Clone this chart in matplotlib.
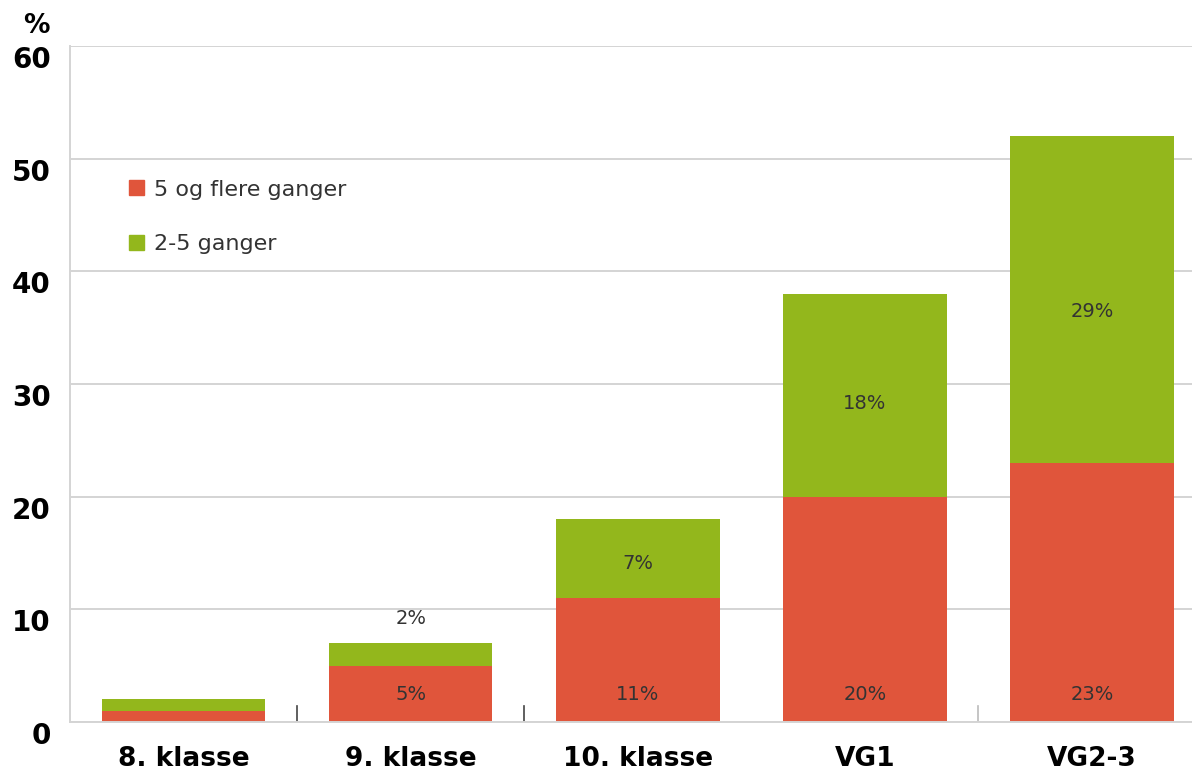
import matplotlib

matplotlib.use("Agg")
import matplotlib.pyplot as plt
from matplotlib.patches import Patch

# --------------------------------------------------------------------------- #
#  Data
# --------------------------------------------------------------------------- #
categories = ["8. klasse", "9. klasse", "10. klasse", "VG1", "VG2-3"]
five_plus = [1, 5, 11, 20, 23]        # 5 og flere ganger
two_five = [1, 2, 7, 18, 29]          # 2-5 ganger
five_plus_labels = ["", "5%", "11%", "20%", "23%"]
two_five_labels = ["", "2%", "7%", "18%", "29%"]
y_ticks = [0, 10, 20, 30, 40, 50, 60]

RED = "#E0553B"
GREEN = "#93B71C"
GRID = "#d4d4d4"

fig = plt.figure(figsize=(11.92, 7.72), dpi=100)
ax = fig.add_axes([0.0587, 0.0648, 0.9413, 0.8756])

x = list(range(len(categories)))
w = 0.72
ax.bar(x, five_plus, width=w, color=RED, zorder=2)
ax.bar(x, two_five, width=w, bottom=five_plus, color=GREEN, zorder=2)

# value labels
for i in x:
    if five_plus_labels[i]:
        ax.text(i, 2.4, five_plus_labels[i], ha="center", va="center",
                fontsize=14, color="#333333", zorder=3)
    if two_five_labels[i]:
        top = five_plus[i] + two_five[i]
        if two_five[i] < 4:
            ypos = top + 2.2
        else:
            ypos = five_plus[i] + two_five[i] / 2 - 0.03 * two_five[i] - 0.2
        ax.text(i, ypos, two_five_labels[i], ha="center", va="center",
                fontsize=14, color="#333333", zorder=3)

ax.set_xlim(-0.5, 4.44)
ax.set_ylim(0, 60)
ax.set_yticks(y_ticks)
ax.set_yticklabels([str(v) for v in y_ticks], fontsize=20, weight="bold",
                   va="top")
ax.set_xticks(x)
ax.set_xticklabels(categories, fontsize=19, weight="bold")
ax.tick_params(axis="x", length=0, pad=17)
ax.tick_params(axis="y", length=0, pad=14)
ax.yaxis.grid(True, color=GRID, linewidth=1.4, zorder=0)
ax.set_axisbelow(True)

for side in ["top", "right"]:
    ax.spines[side].set_visible(False)
ax.spines["left"].set_color(GRID)
ax.spines["left"].set_linewidth(1.4)
ax.spines["bottom"].set_color(GRID)
ax.spines["bottom"].set_linewidth(1.4)

# small separators between categories
for xs, col in [(0.5, "#444444"), (1.5, "#444444"), (3.5, "#bbbbbb")]:
    ax.plot([xs, xs], [0, 1.4], color=col, linewidth=1.2, zorder=1)

ax.text(-0.588, 60.6, "%", ha="right", va="bottom", fontsize=19,
        weight="bold", clip_on=False)

handles = [Patch(color=RED, label="5 og flere ganger"),
           Patch(color=GREEN, label="2-5 ganger")]
ax.legend(handles=handles, loc="upper left", bbox_to_anchor=(0.035, 0.832),
          frameon=False, fontsize=16, handlelength=0.65, handleheight=0.65,
          handletextpad=0.45, labelspacing=1.55, labelcolor="#333333")

fig.savefig("out.png", dpi=100, facecolor="white")
